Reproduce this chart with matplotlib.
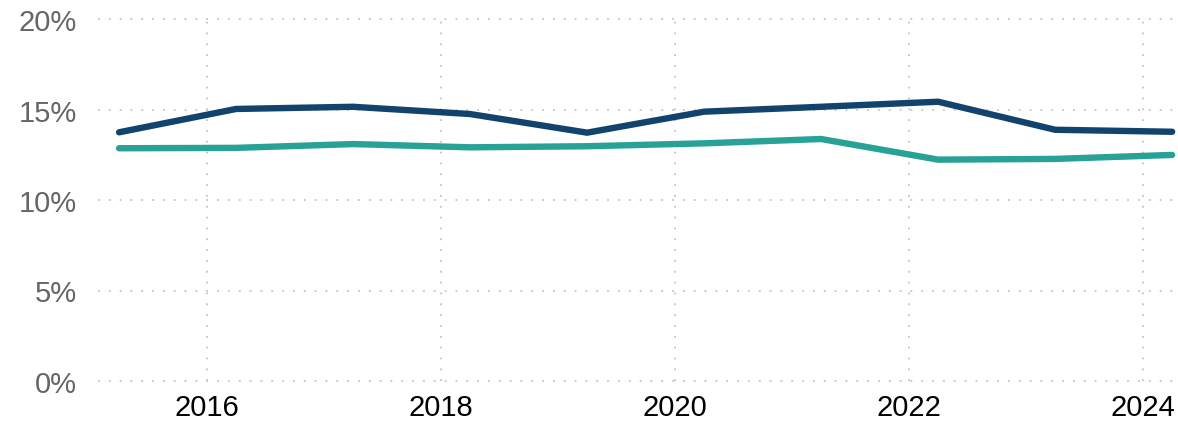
import numpy as np
import matplotlib
matplotlib.use("Agg")
import matplotlib.pyplot as plt
from matplotlib.ticker import FuncFormatter

plt.rcParams['font.family'] = ['Liberation Sans', 'DejaVu Sans']

# annual values, recorded in April of each year
years = [2015, 2016, 2017, 2018, 2019, 2020, 2021, 2022, 2023, 2024]
series_a = [13.74, 15.03, 15.15, 14.75, 13.72, 14.88, 15.15, 15.43, 13.88, 13.77]
series_b = [12.86, 12.88, 13.09, 12.91, 12.97, 13.13, 13.37, 12.23, 12.27, 12.49]
xticks = [2016, 2018, 2020, 2022, 2024]
yticks = [0, 5, 10, 15, 20]

x = np.array(years) + 0.25

fig = plt.figure(figsize=(11.78, 4.27), dpi=100)
ax = fig.add_axes([98 / 1178, 1 - 382 / 427, 1 - 98 / 1178, (382 - 20) / 427])

ax.plot(x, series_a, color="#12436D", lw=4.6, solid_capstyle="round",
        solid_joinstyle="miter", zorder=3)
ax.plot(x, series_b, color="#28A197", lw=4.6, solid_capstyle="round",
        solid_joinstyle="miter", zorder=3)

ax.set_xlim(2015.07, 2024.30)
ax.set_ylim(0, 20)
ax.set_xticks(xticks)
ax.set_yticks(yticks)
ax.yaxis.set_major_formatter(FuncFormatter(lambda v, p: f"{v:.0f}%"))

ax.grid(True, color="#c4c4c4", lw=1.3, linestyle=(0, (1, 5)))
for gl in ax.get_xgridlines() + ax.get_ygridlines():
    gl.set_clip_on(False)
ax.set_axisbelow(True)

for s in ax.spines.values():
    s.set_visible(False)
ax.tick_params(axis="both", length=0)
ax.tick_params(axis="x", labelsize=21, colors="#000000", pad=8.5)
ax.tick_params(axis="y", labelsize=21, colors="#666666", pad=15)

fig.savefig("out.png", dpi=100)
